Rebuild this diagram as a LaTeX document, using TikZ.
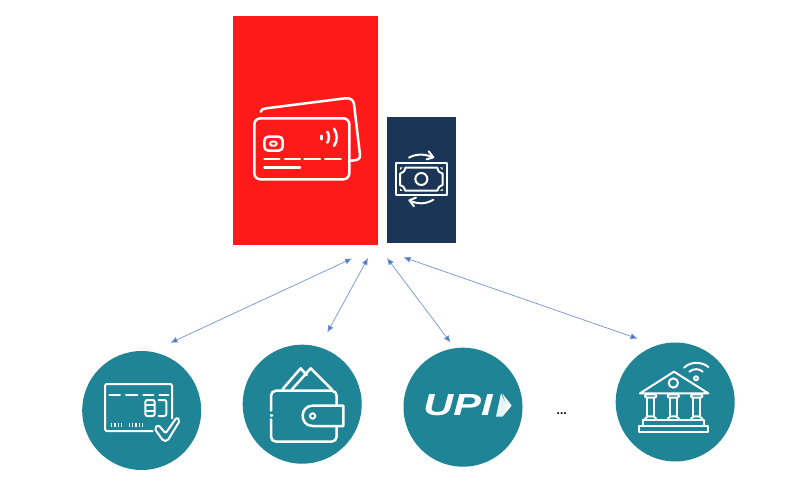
\documentclass[tikz,border=0pt]{standalone}
\usepackage{fontspec}
\setmainfont{Liberation Sans}
\usetikzlibrary{arrows.meta}
\definecolor{redbox}{HTML}{FF1A1A}
\definecolor{navybox}{HTML}{1B3556}
\definecolor{tealdisc}{HTML}{1F8496}
\definecolor{connblue}{HTML}{4472C4}
\tikzset{
  panel/.style={draw=none,inner sep=0pt,outer sep=0pt},
  disc/.style={circle,fill=tealdisc,draw=none,minimum size=119pt,inner sep=0pt,outer sep=0pt},
  ico/.style={draw=white,line width=2.5pt,line cap=round,line join=round},
  icothin/.style={draw=white,line width=2pt,line cap=round,line join=round},
  conn/.style={draw=connblue!75,line width=0.7pt,{Latex[length=7pt,width=6pt,fill=connblue]}-{Latex[length=7pt,width=6pt,fill=connblue]}},
  zoomed/.style={xscale=1/3,yscale=1/3}
}
\begin{document}
\begin{tikzpicture}[x=1pt,y=-1pt]
\useasboundingbox (0,0) rectangle (787,481);
\fill[white] (0,0) rectangle (787,481);
% panels
\node[panel,fill=redbox,minimum width=145pt,minimum height=229pt] (redpanel) at (305.5,130.5) {};
\node[panel,fill=navybox,minimum width=69pt,minimum height=126pt] (navypanel) at (421.5,180) {};
% discs
\node[disc] (cardisc) at (141.7,410.5) {};
\node[disc] (walletdisc) at (302.2,404.2) {};
\node[disc] (upidisc) at (463,407.2) {};
\node[disc] (bankdisc) at (675.2,402) {};
% connectors
\coordinate (h1) at (352,258.5);
\coordinate (t1) at (170.5,342.8);
\coordinate (h2) at (368,258);
\coordinate (t2) at (327.3,332.5);
\coordinate (h3) at (387,258);
\coordinate (t3) at (450.5,342.5);
\coordinate (h4) at (403.5,257.3);
\coordinate (t4) at (637.5,338.6);
\draw[conn] (h1) -- (t1);
\draw[conn] (h2) -- (t2);
\draw[conn] (h3) -- (t3);
\draw[conn] (h4) -- (t4);
% credit cards icon
\begin{scope}[shift={(230,80)},zoomed]
  \draw[ico,rounded corners=6pt] (73,115) rectangle (358,298);
  \draw[ico] (92,95) .. controls (94,88) and (100,86) .. (108,85) -- (345,55) .. controls (362,53) and (370,60) .. (372,72) -- (390,225) .. controls (392,238) and (380,242) .. (360,242);
  \draw[ico,rounded corners=4pt] (103,170) rectangle (158,212);
  \draw[icothin,rounded corners=1.5pt] (120,185) rectangle (140,197);
  \draw[ico] (103,237) -- (148,237) (165,237) -- (210,237) (223,237) -- (270,237) (285,237) -- (332,237);
  \draw[ico] (103,262) -- (210,262);
  \draw[ico] (275,167) -- (275,178);
  \draw[ico] (292,155) .. controls (298,165) and (298,178) .. (292,188);
  \draw[ico] (312,146) .. controls (323,162) and (323,182) .. (312,198);
\end{scope}
% money icon
\begin{scope}[shift={(390,145)},zoomed]
  \draw[icothin] (17,55) rectangle (171,150);
  \draw[icothin] (46,68) -- (142,68) .. controls (143,78) and (150,85) .. (158,86) -- (158,120) .. controls (150,121) and (143,128) .. (142,137) -- (46,137) .. controls (45,128) and (38,121) .. (30,120) -- (30,86) .. controls (38,85) and (45,78) .. (46,68) -- cycle;
  \draw[icothin] (94,102) circle (18);
  \fill[white] (30,67) -- (38,67) -- (30,75) -- cycle (158,67) -- (150,67) -- (158,75) -- cycle (30,138) -- (38,138) -- (30,130) -- cycle (158,138) -- (150,138) -- (158,130) -- cycle;
  \draw[icothin] (57,38) .. controls (78,26) and (105,26) .. (128,37);
  \draw[icothin] (116,19) -- (130,37) -- (110,43);
  \draw[icothin] (130,164) .. controls (108,178) and (82,178) .. (60,167);
  \draw[icothin] (72,184) -- (58,166) -- (78,158);
\end{scope}
% card with check icon
\begin{scope}[shift={(100,375)},zoomed]
  \draw[icothin,rounded corners=2pt] (158,168) -- (15,168) -- (15,27) -- (216,27) -- (216,130);
  \draw[icothin] (28,60) -- (60,60) (78,60) -- (112,60) (130,60) -- (160,60) (178,60) -- (205,60);
  \draw[icothin,rounded corners=2pt] (164,75) -- (136,75) -- (136,123) -- (164,123) -- cycle;
  \draw[icothin] (137,91) -- (163,91) (137,107) -- (163,107);
  \draw[icothin,rounded corners=2pt] (176,75) -- (199,75) -- (199,123) -- (176,123);
  \foreach \p in {35,45,55,65,88,98,108,118,127}
    \draw[draw=white,line width=1.5pt] (\p,145) -- (\p,156);
  \draw[icothin,rounded corners=2pt] (163,160) -- (175,150) -- (197,175) -- (230,127) -- (240,136) -- (202,198) -- (190,198) -- cycle;
\end{scope}
% wallet icon
\begin{scope}[shift={(70,340)},zoomed]
  \draw[ico,rounded corners=5pt] (603,212) -- (603,152) -- (800,152) -- (800,195);
  \draw[ico,rounded corners=5pt] (603,238) -- (603,305) -- (800,305) -- (800,260);
  \draw[ico] (603,226) -- (606,226);
  \draw[ico] (820,197) -- (728,197) .. controls (688,197) and (688,258) .. (728,258) -- (820,258) -- cycle;
  \draw[icothin] (728,228) circle (8);
  \draw[ico] (638,147) -- (692,85) -- (710,105);
  \draw[ico] (666,148) -- (722,85) -- (787,150);
\end{scope}
% UPI logo
\node[font=\bfseries\itshape\fontsize{30.5}{30.5}\selectfont,text=white,inner sep=0pt,xscale=1.36] (upitext) at (458,405.5) {UPI};
\begin{scope}[shift={(395,335)},zoomed]
  \fill[white!90!tealdisc] (318,175) -- (303,245) -- (322,245) -- (335,212) -- cycle;
  \fill[white] (322,175) -- (350,212) -- (322,245) -- (334,212) -- cycle;
\end{scope}
% dots
\node[font=\bfseries\fontsize{12}{12}\selectfont,text=black,inner sep=0pt] (dots) at (561.7,414) {...};
% bank icon
\begin{scope}[shift={(630,355)},zoomed]
  \draw[icothin] (30,115) -- (132,50) -- (235,115) -- cycle;
  \draw[icothin] (130,84) circle (14);
  \foreach \c in {62,130,200}{
    \draw[icothin] (\c-10,130) -- (\c-10,182) (\c+10,130) -- (\c+10,182);
    \draw[icothin,rounded corners=2pt] (\c-17,128) -- (\c-17,118) -- (\c+17,118) -- (\c+17,128) -- cycle;
    \draw[icothin,rounded corners=2pt] (\c-17,194) -- (\c-14,184) -- (\c+14,184) -- (\c+17,194);
  }
  \draw[icothin] (40,194) -- (222,194) -- (222,212) (40,194) -- (40,212);
  \draw[icothin] (28,212) rectangle (235,230);
  \draw[icothin] (198,70) circle (6);
  \draw[icothin] (178,50) .. controls (190,40) and (208,40) .. (218,50);
  \draw[icothin] (162,38) .. controls (182,19) and (215,19) .. (235,36);
\end{scope}
\end{tikzpicture}
\end{document}
